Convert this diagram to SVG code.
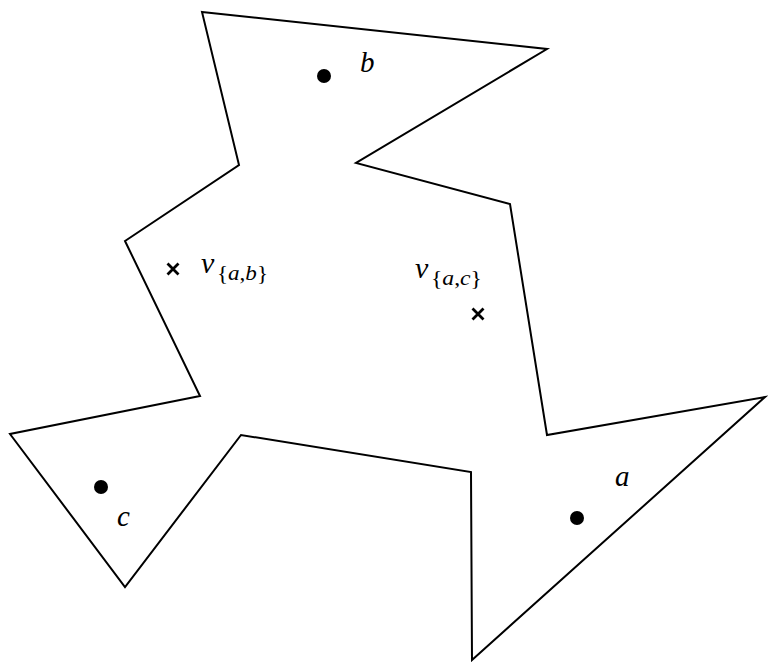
<svg xmlns="http://www.w3.org/2000/svg" width="768" height="662" viewBox="0 0 768 662">
<style>
.poly{fill:none;stroke:#000;stroke-width:2;stroke-linejoin:miter}
.dot{fill:#000}
.x{stroke:#000;stroke-width:2.8;fill:none}
.lbl{font-family:'Liberation Serif',serif;font-style:italic;font-size:29px;fill:#000}
.v{font-family:'Liberation Serif',serif;font-style:italic;font-size:30px;fill:#000}
.sub{font-family:'Liberation Serif',serif;font-size:22px;fill:#000}
.subi{font-style:italic}
</style>
<rect width="768" height="662" fill="#fff"/>
<g id="polygon">
<polygon class="poly" points="202,12 547,49 356,163 510,204 547,435 765,397 472,660 471,472 241,435 125,587 10,434 200,396 125,241 239,165"/>
</g>
<g id="node-b"><circle class="dot" cx="324" cy="76" r="7"/><text class="lbl" x="360" y="72">b</text></g>
<g id="node-c"><circle class="dot" cx="101" cy="487" r="7"/><text class="lbl" x="117" y="526">c</text></g>
<g id="node-a"><circle class="dot" cx="577" cy="518" r="7"/><text class="lbl" x="615" y="486">a</text></g>
<g id="v-ab">
<path class="x" d="M167.5,263.5 L178.5,274.5 M178.5,263.5 L167.5,274.5"/>
<text class="v" x="201" y="273">v</text>
<text class="sub" x="217" y="280" textLength="51" lengthAdjust="spacingAndGlyphs">{<tspan class="subi">a</tspan>,<tspan class="subi">b</tspan>}</text>
</g>
<g id="v-ac">
<path class="x" d="M472.5,308.5 L483.5,319.5 M483.5,308.5 L472.5,319.5"/>
<text class="v" x="415" y="278">v</text>
<text class="sub" x="431" y="285" textLength="51" lengthAdjust="spacingAndGlyphs">{<tspan class="subi">a</tspan>,<tspan class="subi">c</tspan>}</text>
</g>
<g id="connectors"/>
</svg>
